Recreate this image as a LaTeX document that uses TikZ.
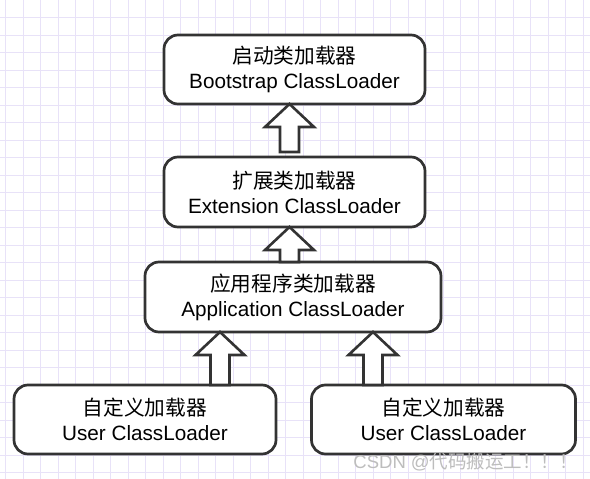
\documentclass[tikz,border=0pt]{standalone}
\usepackage{fontspec}
\setmainfont{Liberation Sans}
\newfontfamily\cjk{Noto Sans CJK SC}
\usetikzlibrary{positioning, calc}
\definecolor{edge}{HTML}{333333}
\definecolor{gridline}{HTML}{E8E2F8}
\definecolor{stamp}{HTML}{BDBDBD}

\begin{document}
\begin{tikzpicture}[
    x=1pt, y=-1pt,
    box/.style={rectangle, draw=edge, fill=white, line width=2.7pt, rounded corners=14pt,
                minimum width=#1, minimum height=69pt, inner sep=0pt, outer sep=0pt,
                align=center, font=\fontsize{20.7}{25}\selectfont},
    box/.default=261pt,
    lift/.style={draw=edge, fill=white, line width=2.6pt, line join=miter},
    grid line/.style={draw=gridline, line width=1pt}
]

% Canvas and grid
\useasboundingbox (0,0) rectangle (590,479);
\fill[white] (0,0) rectangle (590,479);
\foreach \gx in {0,...,33}
    \draw[grid line] (5.8+17.5*\gx,0) -- (5.8+17.5*\gx,479);
\foreach \gy in {1,...,27}
    \draw[grid line] (0,17.5*\gy) -- (590,17.5*\gy);

% Loader chain
\node[box] (boot) at (294.5,69.5) {{\cjk 启动类加载器}\\Bootstrap ClassLoader};
\node[box, minimum height=70pt, below=53pt of boot] (ext) {{\cjk 扩展类加载器}\\Extension ClassLoader};
\node[box=296pt, minimum height=70pt, below=35pt of ext, xshift=-1.5pt] (app) {{\cjk 应用程序类加载器}\\Application ClassLoader};

% User loaders
\node[box=262pt] (user1) at (145,419.5) {{\cjk 自定义加载器}\\User ClassLoader};
\node[box=264pt] (user2) at (443.5,419.5) {{\cjk 自定义加载器}\\User ClassLoader};

% Hollow arrows (tip / foot)
\coordinate (tip1) at ($(boot.south)+(-5,0)$);
\coordinate (foot1) at ($(ext.north)+(0,-5)$);
\coordinate (tip2) at ($(ext.south)+(-5,0)$);
\coordinate (foot2) at (app.north);
\coordinate (tip3) at ($(app.south)+(-73,0)$);
\coordinate (foot3) at (user1.north);
\coordinate (tip4) at ($(app.south)+(80,0)$);
\coordinate (foot4) at (user2.north);
\foreach \t/\f in {tip1/foot1, tip2/foot2, tip3/foot3, tip4/foot4}
    \draw[lift] (\t) -- ++(24.5,23) -- ++(-15,0) -- ($(\t |- \f)+(9.5,0)$)
        -- ++(-19,0) -- ($(\t)+(-9.5,23)$) -- ++(-15,0) -- cycle;

% Watermark
\node[anchor=east, text=stamp, inner sep=0pt, font=\fontsize{18.5}{20}\selectfont] (mark) at (578,462) {CSDN @{\cjk 代码搬运工！！！}};

\end{tikzpicture}
\end{document}
